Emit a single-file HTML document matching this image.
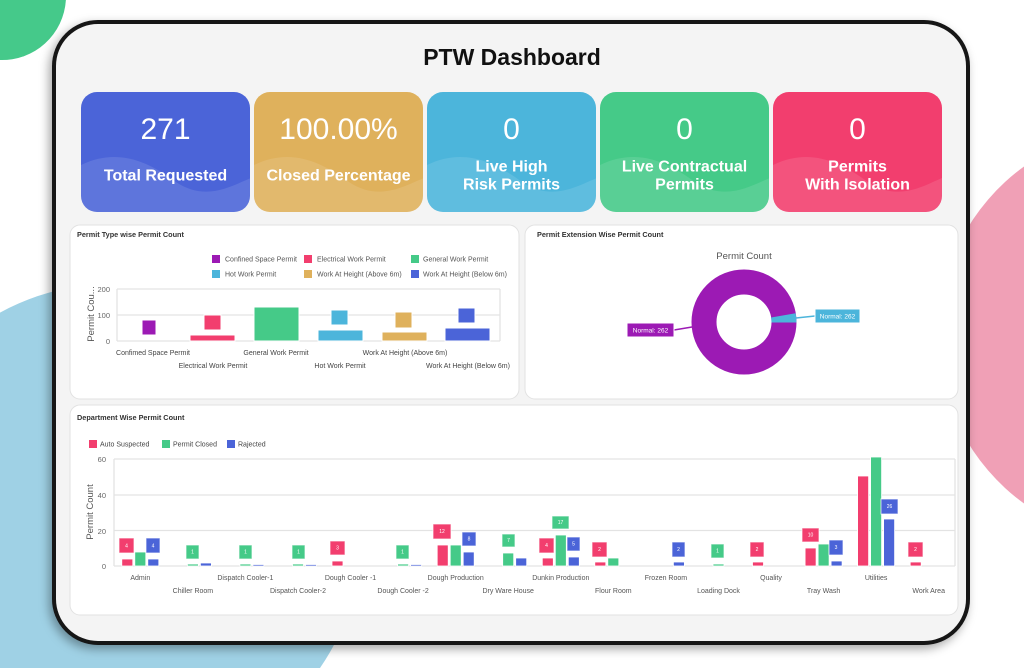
<!DOCTYPE html>
<html><head><meta charset="utf-8"><style>
html,body{margin:0;padding:0;background:#fff;width:1024px;height:668px;overflow:hidden;}
svg{display:block;}
text{font-family:"Liberation Sans",sans-serif;}
</style></head><body>
<svg width="1024" height="668" viewBox="0 0 1024 668" xmlns="http://www.w3.org/2000/svg">
<defs>
<filter id="sh" x="-5%" y="-5%" width="110%" height="108%"><feDropShadow dx="-3" dy="4" stdDeviation="5" flood-color="#000" flood-opacity="0.35"/></filter>
<clipPath id="cards">
<rect x="81" y="92" width="169" height="120" rx="16"/>
<rect x="254" y="92" width="169" height="120" rx="16"/>
<rect x="427" y="92" width="169" height="120" rx="16"/>
<rect x="600" y="92" width="169" height="120" rx="16"/>
<rect x="773" y="92" width="169" height="120" rx="16"/>
</clipPath>
</defs>
<rect width="1024" height="668" fill="#fff"/>
<path d="M0,0 L65.9,0 A64,64 0 0 1 0,60 Z" fill="#45c98a"/>
<path d="M1024,166.5 A208,208 0 0 0 1024,503.5 Z" fill="#f0a0b6"/>
<path d="M0,312.6 A246,246 0 0 1 320,668 L0,668 Z" fill="#9fd1e5"/>

<!-- device frame -->
<rect x="54" y="22" width="914" height="621" rx="44" fill="#f4f4f4" stroke="#151515" stroke-width="4" filter="url(#sh)"/>

<text x="512" y="65" font-size="23" font-weight="bold" text-anchor="middle" fill="#111">PTW Dashboard</text>

<!-- cards -->
<rect x="81" y="92" width="169" height="120" rx="16" fill="#4b64d8"/>
<rect x="254" y="92" width="169" height="120" rx="16" fill="#dfb15c"/>
<rect x="427" y="92" width="169" height="120" rx="16" fill="#4cb5db"/>
<rect x="600" y="92" width="169" height="120" rx="16" fill="#45ca88"/>
<rect x="773" y="92" width="169" height="120" rx="16" fill="#f23e6e"/>
<g clip-path="url(#cards)" fill="#fff" fill-opacity="0.11">
<path d="M81,165 C116,148 146,160 176,182 C206,202 231,186 251,178 L251,212 L81,212 Z"/>
<path d="M254,165 C289,148 319,160 349,182 C379,202 404,186 424,178 L424,212 L254,212 Z"/>
<path d="M427,165 C462,148 492,160 522,182 C552,202 577,186 597,178 L597,212 L427,212 Z"/>
<path d="M600,165 C635,148 665,160 695,182 C725,202 750,186 770,178 L770,212 L600,212 Z"/>
<path d="M773,165 C808,148 838,160 868,182 C898,202 923,186 942,178 L942,212 L773,212 Z"/>
</g>
<g fill="#fff" text-anchor="middle">
<text x="165.5" y="139" font-size="30">271</text>
<text x="338.5" y="139" font-size="30">100.00%</text>
<text x="511.5" y="139" font-size="30">0</text>
<text x="684.5" y="139" font-size="30">0</text>
<text x="857.5" y="139" font-size="30">0</text>
<g font-size="16" font-weight="bold">
<text x="165.5" y="180.5">Total Requested</text>
<text x="338.5" y="180.5">Closed Percentage</text>
<text x="511.5" y="171.5">Live High</text>
<text x="511.5" y="189.5">Risk Permits</text>
<text x="684.5" y="171.5">Live Contractual</text>
<text x="684.5" y="189.5">Permits</text>
<text x="857.5" y="171.5">Permits</text>
<text x="857.5" y="189.5">With Isolation</text>
</g>
</g>

<!-- panels -->
<rect x="70" y="225" width="449" height="174" rx="10" fill="#fff" stroke="#e2e2e2"/>
<rect x="525" y="225" width="433" height="174" rx="10" fill="#fff" stroke="#e2e2e2"/>
<rect x="70" y="405" width="888" height="210" rx="10" fill="#fff" stroke="#e2e2e2"/>

<!-- Panel 1 -->
<text x="77" y="237" font-size="7.3" font-weight="bold" fill="#333">Permit Type wise Permit Count</text>
<g font-size="7" fill="#555">
<rect x="212" y="255" width="8" height="8" fill="#9c1ab4"/><text x="225" y="261.5">Confined Space Permit</text>
<rect x="304" y="255" width="8" height="8" fill="#f23e6e"/><text x="317" y="261.5">Electrical Work Permit</text>
<rect x="411" y="255" width="8" height="8" fill="#45ca88"/><text x="423" y="261.5">General Work Permit</text>
<rect x="212" y="270" width="8" height="8" fill="#4cb5db"/><text x="225" y="276.5">Hot Work Permit</text>
<rect x="304" y="270" width="8" height="8" fill="#dfb15c"/><text x="317" y="276.5">Work At Height (Above 6m)</text>
<rect x="411" y="270" width="8" height="8" fill="#4b64d8"/><text x="423" y="276.5">Work At Height (Below 6m)</text>
</g>
<g stroke="#e3e3e3" stroke-width="1.3" fill="none">
<line x1="117" y1="289" x2="500" y2="289"/>
<line x1="117" y1="315" x2="500" y2="315"/>
<line x1="117" y1="341" x2="500" y2="341"/>
<line x1="117" y1="289" x2="117" y2="341"/>
<line x1="500" y1="289" x2="500" y2="341"/>
</g>
<g font-size="7.5" fill="#666" text-anchor="end">
<text x="110" y="292">200</text><text x="110" y="318">100</text><text x="110" y="344">0</text>
</g>
<text transform="translate(94,314) rotate(-90)" font-size="9.5" fill="#555" text-anchor="middle">Permit Cou...</text>
<g stroke="#fff" stroke-width="1">
<rect x="142" y="320" width="14" height="15" fill="#9c1ab4"/>
<rect x="204" y="315" width="17" height="15" fill="#f23e6e"/>
<rect x="190" y="335" width="45" height="6" fill="#f23e6e"/>
<rect x="254" y="307" width="45" height="34" fill="#45ca88"/>
<rect x="331" y="310" width="17" height="15" fill="#4cb5db"/>
<rect x="318" y="330" width="45" height="11" fill="#4cb5db"/>
<rect x="395" y="312" width="17" height="16" fill="#dfb15c"/>
<rect x="382" y="332" width="45" height="9" fill="#dfb15c"/>
<rect x="458" y="308" width="17" height="15" fill="#4b64d8"/>
<rect x="445" y="328" width="45" height="13" fill="#4b64d8"/>
</g>
<g font-size="7" fill="#444" text-anchor="middle">
<text x="153" y="355">Confimed Space Permit</text>
<text x="276" y="355">General Work Permit</text>
<text x="405" y="355">Work At Height (Above 6m)</text>
<text x="213" y="368">Electrical Work Permit</text>
<text x="340" y="368">Hot Work Permit</text>
<text x="468" y="368">Work At Height (Below 6m)</text>
</g>

<!-- Panel 2 -->
<text x="537" y="237" font-size="7.3" font-weight="bold" fill="#333">Permit Extension Wise Permit Count</text>
<text x="744" y="259" font-size="9.5" fill="#555" text-anchor="middle">Permit Count</text>
<circle cx="744" cy="322" r="40" fill="none" stroke="#9c1ab4" stroke-width="25"/>
<path d="M795.6,313.2 A52.5,52.5 0 0 1 796.5,322.5 L771.5,322.5 A27.5,27.5 0 0 0 771.1,317.5 Z" fill="#4cb5db"/>
<line x1="796" y1="318" x2="815" y2="316" stroke="#4cb5db" stroke-width="1.5"/>
<line x1="692" y1="327" x2="674" y2="330" stroke="#9c1ab4" stroke-width="1.5"/>
<rect x="815" y="309" width="45" height="14" fill="#4cb5db" stroke="#fff" stroke-width="1"/>
<rect x="627" y="323" width="47" height="14" fill="#9c1ab4" stroke="#fff" stroke-width="1"/>
<text x="837.5" y="318.5" font-size="6.5" fill="#fff" text-anchor="middle">Normal: 262</text>
<text x="650.5" y="332.5" font-size="6.5" fill="#fff" text-anchor="middle">Normal: 262</text>

<!-- Panel 3 -->
<text x="77" y="420" font-size="7.3" font-weight="bold" fill="#333">Department Wise Permit Count</text>
<g font-size="7" fill="#444">
<rect x="89" y="440" width="8" height="8" fill="#f23e6e"/><text x="100" y="446.5">Auto Suspected</text>
<rect x="162" y="440" width="8" height="8" fill="#45ca88"/><text x="173" y="446.5">Permit Closed</text>
<rect x="227" y="440" width="8" height="8" fill="#4b64d8"/><text x="238" y="446.5">Rajected</text>
</g>
<g stroke="#e3e3e3" stroke-width="1.3" fill="none">
<line x1="114" y1="459" x2="955" y2="459"/>
<line x1="114" y1="495" x2="955" y2="495"/>
<line x1="114" y1="530.5" x2="955" y2="530.5"/>
<line x1="114" y1="566" x2="955" y2="566"/>
<line x1="114" y1="459" x2="114" y2="566"/>
<line x1="955" y1="459" x2="955" y2="566"/>
</g>
<g font-size="7.5" fill="#666" text-anchor="end">
<text x="106" y="462">60</text><text x="106" y="498">40</text><text x="106" y="534">20</text><text x="106" y="569">0</text>
</g>
<text transform="translate(93,512) rotate(-90)" font-size="9.5" fill="#555" text-anchor="middle">Permit Count</text>

<g stroke="#fff" stroke-width="0.8">
<rect x="121.8" y="559" width="11" height="7" fill="#f23e6e"/>
<rect x="134.8" y="552" width="11" height="14" fill="#45ca88"/>
<rect x="147.8" y="559" width="11" height="7" fill="#4b64d8"/>
<rect x="187.4" y="564" width="11" height="2" fill="#45ca88"/>
<rect x="200.4" y="563" width="11" height="3" fill="#4b64d8"/>
<rect x="239.9" y="564" width="11" height="2" fill="#45ca88"/>
<rect x="252.9" y="564.5" width="11" height="1.5" fill="#4b64d8"/>
<rect x="292.5" y="564" width="11" height="2" fill="#45ca88"/>
<rect x="305.5" y="564.5" width="11" height="1.5" fill="#4b64d8"/>
<rect x="332" y="561" width="11" height="5" fill="#f23e6e"/>
<rect x="397.6" y="564" width="11" height="2" fill="#45ca88"/>
<rect x="410.6" y="564.5" width="11" height="1.5" fill="#4b64d8"/>
<rect x="437.2" y="545" width="11" height="21" fill="#f23e6e"/>
<rect x="450.2" y="545" width="11" height="21" fill="#45ca88"/>
<rect x="463.2" y="552" width="11" height="14" fill="#4b64d8"/>
<rect x="502.7" y="553" width="11" height="13" fill="#45ca88"/>
<rect x="515.7" y="558" width="11" height="8" fill="#4b64d8"/>
<rect x="542.3" y="558" width="11" height="8" fill="#f23e6e"/>
<rect x="555.3" y="535" width="11" height="31" fill="#45ca88"/>
<rect x="568.3" y="557" width="11" height="9" fill="#4b64d8"/>
<rect x="594.8" y="562" width="11" height="4" fill="#f23e6e"/>
<rect x="607.8" y="558" width="11" height="8" fill="#45ca88"/>
<rect x="673.4" y="562" width="11" height="4" fill="#4b64d8"/>
<rect x="713" y="564" width="11" height="2" fill="#45ca88"/>
<rect x="752.5" y="562" width="11" height="4" fill="#f23e6e"/>
<rect x="805.1" y="548" width="11" height="18" fill="#f23e6e"/>
<rect x="818.1" y="544" width="11" height="22" fill="#45ca88"/>
<rect x="831.1" y="561" width="11" height="5" fill="#4b64d8"/>
<rect x="857.6" y="476" width="11" height="90" fill="#f23e6e"/>
<rect x="870.6" y="457" width="11" height="109" fill="#45ca88"/>
<rect x="883.6" y="519" width="11" height="47" fill="#4b64d8"/>
<rect x="910.2" y="562" width="11" height="4" fill="#f23e6e"/>
</g>

<g stroke="#fff" stroke-opacity="0.7" stroke-width="1">
<rect x="119" y="538" width="15" height="15" fill="#f23e6e"/>
<rect x="146" y="538" width="14" height="15" fill="#4b64d8"/>
<rect x="186" y="545" width="13" height="14" fill="#45ca88"/>
<rect x="239" y="545" width="13" height="14" fill="#45ca88"/>
<rect x="292" y="545" width="13" height="14" fill="#45ca88"/>
<rect x="330" y="541" width="15" height="14" fill="#f23e6e"/>
<rect x="396" y="545" width="13" height="14" fill="#45ca88"/>
<rect x="433" y="524" width="18" height="15" fill="#f23e6e"/>
<rect x="462" y="532" width="14" height="14" fill="#4b64d8"/>
<rect x="502" y="534" width="13" height="13" fill="#45ca88"/>
<rect x="539" y="538" width="15" height="15" fill="#f23e6e"/>
<rect x="552" y="516" width="17" height="13" fill="#45ca88"/>
<rect x="567" y="537" width="13" height="14" fill="#4b64d8"/>
<rect x="592" y="542" width="15" height="15" fill="#f23e6e"/>
<rect x="672" y="542" width="13" height="15" fill="#4b64d8"/>
<rect x="711" y="544" width="13" height="14" fill="#45ca88"/>
<rect x="750" y="542" width="14" height="15" fill="#f23e6e"/>
<rect x="802" y="528" width="17" height="14" fill="#f23e6e"/>
<rect x="829" y="540" width="14" height="15" fill="#4b64d8"/>
<rect x="881" y="499" width="17" height="15" fill="#4b64d8"/>
<rect x="908" y="542" width="15" height="15" fill="#f23e6e"/>
</g>
<g font-size="5" fill="#fff" text-anchor="middle">
<text x="126.5" y="547.5">4</text>
<text x="153" y="547.5">4</text>
<text x="192.5" y="553.5">1</text>
<text x="245.5" y="553.5">1</text>
<text x="298.5" y="553.5">1</text>
<text x="337.5" y="549.5">3</text>
<text x="402.5" y="553.5">1</text>
<text x="442" y="533">12</text>
<text x="469" y="540.5">8</text>
<text x="508.5" y="542">7</text>
<text x="546.5" y="547">4</text>
<text x="560.5" y="524">17</text>
<text x="573.5" y="545.5">5</text>
<text x="599.5" y="551">2</text>
<text x="678.5" y="551">2</text>
<text x="717.5" y="552.5">1</text>
<text x="757" y="551">2</text>
<text x="810.5" y="536.5">10</text>
<text x="836" y="549">3</text>
<text x="889.5" y="508">26</text>
<text x="915.5" y="551">2</text>
</g>

<g font-size="7" fill="#555" text-anchor="middle">
<text x="140.3" y="580">Admin</text>
<text x="245.4" y="580">Dispatch Cooler-1</text>
<text x="350.5" y="580">Dough Cooler -1</text>
<text x="455.7" y="580">Dough Production</text>
<text x="560.8" y="580">Dunkin Production</text>
<text x="665.9" y="580">Frozen Room</text>
<text x="771" y="580">Quality</text>
<text x="876.1" y="580">Utilities</text>
<text x="192.9" y="593">Chiller Room</text>
<text x="298" y="593">Dispatch Cooler-2</text>
<text x="403.1" y="593">Dough Cooler -2</text>
<text x="508.2" y="593">Dry Ware House</text>
<text x="613.3" y="593">Flour Room</text>
<text x="718.5" y="593">Loading Dock</text>
<text x="823.6" y="593">Tray Wash</text>
<text x="928.7" y="593">Work Area</text>
</g>
</svg>
</body></html>
